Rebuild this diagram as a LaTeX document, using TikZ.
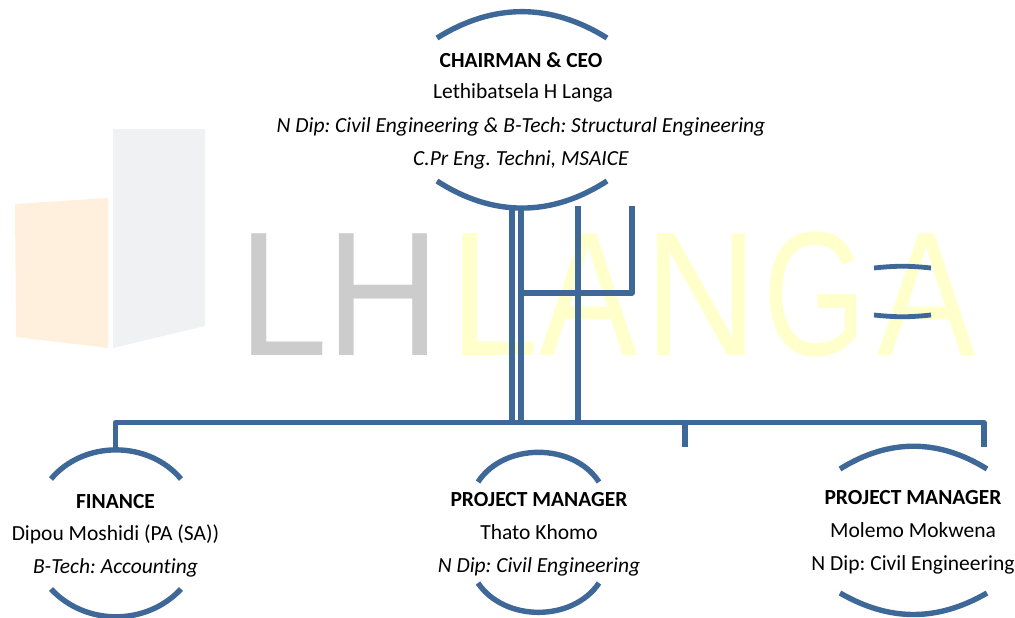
\documentclass[tikz,border=0pt]{standalone}
\usepackage{fontspec}
\setmainfont[Ligatures=NoCommon]{Carlito}
\newfontfamily\wmfont{Liberation Sans}
\frenchspacing
\definecolor{linecol}{HTML}{3E6898}
\definecolor{wmgrey}{HTML}{CCCCCC}
\definecolor{wmyellow}{HTML}{FFFFCC}
\definecolor{logoorange}{HTML}{FFF0DD}
\definecolor{logogrey}{HTML}{F0F1F2}
\tikzset{
  wire/.style={draw=linecol,line width=5.4pt,line join=round},
  arcline/.style={draw=linecol,line width=5.4pt},
  thinarc/.style={draw=linecol,line width=4.8pt},
  wm/.style={font=\wmfont\fontsize{177}{177}\selectfont,inner sep=0pt,anchor=base,transform shape},
  lbl/.style={font=\fontsize{21.5}{24}\selectfont,inner sep=0pt,anchor=base,text=black},
}
\begin{document}
\begin{tikzpicture}[x=1pt,y=-1pt]
\useasboundingbox (0,0) rectangle (1015,618);
\fill[white] (0,0) rectangle (1015,618);
% logo
\fill[logoorange] (15,204) -- (108,198) -- (108,348) -- (16,337) -- cycle;
\fill[logogrey] (113,129) -- (205,129) -- (205,326) -- (113,348) -- cycle;
\node[wm,text=wmgrey,xscale=.91] (w1) at (283,355) {L};
\node[wm,text=wmgrey,xscale=.89] (w2) at (383,355) {H};
\node[wm,text=wmyellow,xscale=.91] (w3) at (494,355) {L};
\node[wm,text=wmyellow,xscale=.83] (w4) at (588.5,355) {A};
\node[wm,text=wmyellow,xscale=.89] (w5) at (701,355) {N};
\node[wm,text=wmyellow,xscale=.75] (w6) at (815,355) {G};
\node[wm,text=wmyellow,xscale=.83] (w7) at (926.5,355) {A};
% anchors
\coordinate (c1) at (512,206);
\coordinate (c2) at (521,206);
\coordinate (c3) at (578,206);
\coordinate (c4) at (632,206);
\coordinate (b1) at (512,422.5);
\coordinate (b2) at (521,422.5);
\coordinate (b3) at (578,422.5);
\coordinate (j2) at (521,293);
\coordinate (busL) at (115.5,422.5);
\coordinate (busR) at (984,422.5);
\coordinate (tickTop) at (685,422.5);
\coordinate (tickEnd) at (685,447);
\coordinate (finTop) at (115.5,446.5);
\coordinate (pmTop) at (984,446.5);
% connectors
\draw[wire] (c1) -- (b1);
\draw[wire] (c2) -- (b2);
\draw[wire] (c3) -- (b3);
\draw[wire] (c4) -- (c4 |- j2) -- (j2);
\draw[wire] (finTop) -- (busL) -- (busR) -- (pmTop);
\draw[wire] (tickTop) -- (tickEnd);
% arcs
\draw[arcline] (437,38) to[bend left=32] (607,38);
\draw[arcline] (437,181) to[bend right=33] (607,181);
\draw[arcline] (51,479) to[bend left=50] (181,479);
\draw[arcline] (51,589) to[bend right=47] (181,589);
\draw[arcline] (478,482) to[bend left=57] (599,482);
\draw[arcline] (478,583) to[bend right=56] (599,583);
\draw[arcline] (840,469) to[bend left=32] (987,469);
\draw[arcline] (840,593) to[bend right=30] (987,593);
\draw[thinarc] (874,268) to[bend left=6] (931,268);
\draw[thinarc] (874,315) to[bend right=6] (931,315);
% text
\node[lbl] (t1) at (521,67) {\textbf{CHAIRMAN \& CEO}};
\node[lbl] (t2) at (523,99) {Lethibatsela H Langa};
\node[lbl] (t3) at (521,132) {\textit{N Dip: Civil Engineering \& B-Tech: Structural Engineering}};
\node[lbl] (t4) at (521,165) {\textit{C.Pr Eng. Techni, MSAICE}};
\node[lbl] (f1) at (115.5,508) {\textbf{FINANCE}};
\node[lbl] (f2) at (115.5,540) {Dipou Moshidi (PA (SA))};
\node[lbl] (f3) at (115.5,573) {\textit{B-Tech: Accounting}};
\node[lbl] (m1) at (539,506) {\textbf{PROJECT MANAGER}};
\node[lbl] (m2) at (539,539) {Thato Khomo};
\node[lbl] (m3) at (539,572) {\textit{N Dip: Civil Engineering}};
\node[lbl] (r1) at (913,504) {\textbf{PROJECT MANAGER}};
\node[lbl] (r2) at (913,537) {Molemo Mokwena};
\node[lbl] (r3) at (913,570) {N Dip: Civil Engineering};
\end{tikzpicture}
\end{document}
